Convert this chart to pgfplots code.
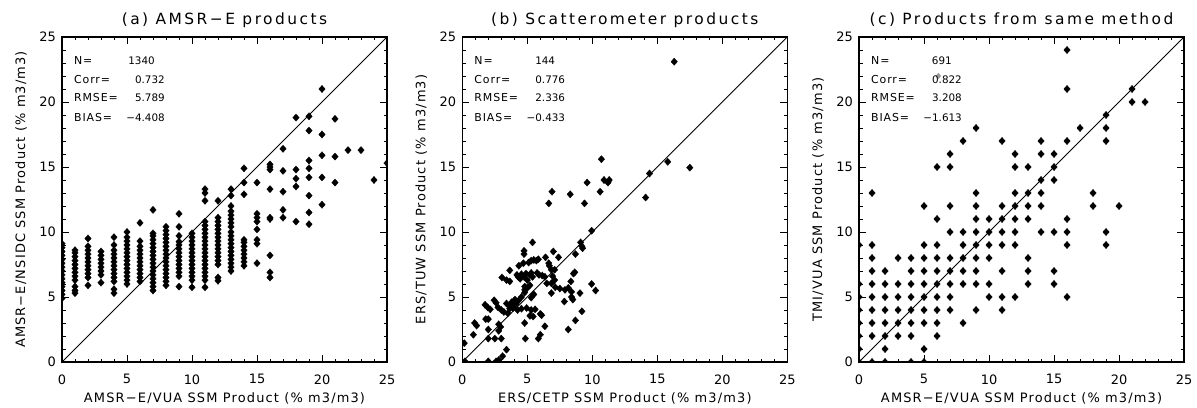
\documentclass[border=0pt]{standalone}
\usepackage{fontspec}
\setmainfont{DejaVu Sans}
\newfontfamily\lsfont{DejaVu Sans}[LetterSpace=9]
\newfontfamily\stfont{DejaVu Sans}[LetterSpace=8]
\newfontfamily\ttlfont{DejaVu Sans}[LetterSpace=16]
\usepackage{pgfplots}
\pgfplotsset{compat=1.18}
\pgfplotsset{
  idl/.style={
    scale only axis, width=325bp, height=325bp,
    xmin=0, xmax=25, ymin=0, ymax=25,
    xtick={0,5,...,25}, ytick={0,5,...,25},
    minor tick num=4,
    tick align=inside,
    major tick length=7bp, minor tick length=3.5bp,
    axis line style={line width=1.2bp},
    every tick/.style={black, line width=0.9bp},
    tick label style={font=\fontsize{13}{15}\selectfont},
    /pgf/number format/assume math mode=true,
    xticklabel style={yshift=-9bp},
    yticklabel style={xshift=-2.7bp},
    every axis x label/.style={at={(axis description cs:0.5,-0.125)}, anchor=base, font=\lsfont\fontsize{13}{15}\selectfont},
    every axis y label/.style={at={(axis description cs:-0.1138,0.5)}, rotate=90, anchor=base, font=\lsfont\fontsize{13}{15}\selectfont},
    every axis title/.style={at={(axis description cs:0.5,1.037)}, anchor=base, font=\ttlfont\fontsize{15.5}{18}\selectfont},
    clip marker paths=true,
  },
  pts/.style={only marks, mark=diamond*, mark size=3.6bp, mark options={xscale=1.2, fill=black, draw=black, line width=0.3bp}},
  diag/.style={black, line width=0.8bp, no marks},
}
\tikzset{stat/.style={font=\stfont\fontsize{11}{13}\selectfont, inner sep=0pt},
  statv/.style={font=\fontsize{10.4}{12}\selectfont, inner sep=0pt}}
\newcommand{\stats}[5]{%
  \node[stat, anchor=base west] at (axis cs:0.92,22.85) {N=};
  \node[stat, anchor=base west] at (axis cs:0.92,21.44) {Corr=};
  \node[stat, anchor=base west] at (axis cs:0.92,20.02) {RMSE=};
  \node[stat, anchor=base west] at (axis cs:0.92,18.48) {BIAS=};
  \node[statv, anchor=base east] at (axis cs:7.15,22.85) {#1};
  \node[statv, anchor=base east] at (axis cs:7.92,21.44) {#2};
  \node[statv, anchor=base east] at (axis cs:7.92,20.02) {#3};
  \node[statv, anchor=base east] at (axis cs:7.92,18.48) {#4};
}
\begin{document}
\begin{tikzpicture}[x=1bp,y=1bp]
\useasboundingbox (0,0) rectangle (1197,407);
% ---------------- (a)
\begin{axis}[idl, at={(62bp,45bp)}, anchor=south west,
  title={(a) AMSR−E products},
  xlabel={AMSR−E/VUA SSM Product (\% m3/m3)},
  ylabel={AMSR−E/NSIDC SSM Product (\% m3/m3)}]
\addplot[pts] table {
x y
0 4.9
0 5.2
0 5.5
0 5.8
0 6.1
0 6.4
0 6.7
0 7.0
0 7.3
0 7.6
0 7.9
0 8.2
0 8.5
0 8.8
0 9.1
1 5.3
1 5.5
1 5.8
1 6.3
1 6.6
1 6.9
1 7.2
1 7.5
1 7.8
1 8.1
1 8.4
1 8.6
2 5.9
2 6.5
2 6.8
2 7.1
2 7.4
2 7.7
2 8.0
2 8.3
2 8.6
2 8.9
2 9.5
3 6.1
3 6.7
3 7.0
3 7.3
3 7.6
3 7.9
3 8.2
3 8.5
4 5.3
4 5.6
4 6.2
4 6.5
4 6.8
4 7.1
4 7.4
4 7.7
4 8.0
4 8.3
4 8.6
4 9.0
4 9.6
5 6.0
5 6.3
5 6.6
5 6.9
5 7.2
5 7.5
5 7.8
5 8.1
5 8.4
5 8.7
5 9.0
5 9.3
5 9.6
5 10.0
6 6.2
6 6.5
6 6.8
6 7.1
6 7.4
6 7.7
6 8.0
6 8.3
6 8.6
6 8.9
6 9.3
6 10.7
7 5.5
7 5.8
7 6.1
7 6.4
7 6.7
7 7.0
7 7.3
7 7.6
7 7.9
7 8.2
7 8.5
7 8.8
7 9.1
7 9.4
7 9.7
7 9.9
7 11.7
8 5.9
8 6.2
8 6.5
8 6.8
8 7.1
8 7.4
8 7.7
8 8.0
8 8.3
8 8.6
8 8.9
8 9.2
8 9.5
8 9.8
8 10.1
8 10.4
9 5.8
9 6.6
9 6.9
9 7.2
9 7.5
9 7.8
9 8.1
9 8.4
9 8.7
9 9.0
9 9.25
9 9.7
9 10.4
9 11.4
10 5.75
10 6.3
10 6.6
10 6.9
10 7.2
10 7.5
10 7.8
10 8.1
10 8.4
10 8.7
10 9.0
10 9.3
10 9.6
10 9.9
11 5.75
11 6.3
11 6.6
11 6.9
11 7.2
11 7.5
11 7.8
11 8.1
11 8.4
11 8.7
11 9.0
11 9.3
11 9.6
11 9.9
11 10.2
11 10.5
11 10.8
11 12.4
11 13.0
11 13.3
12 6.25
12 6.5
12 7.5
12 7.8
12 8.1
12 8.4
12 8.7
12 9.0
12 9.3
12 9.6
12 9.9
12 10.2
12 10.5
12 10.8
12 11.1
12 12.4
13 7.0
13 7.3
13 7.6
13 7.9
13 8.2
13 8.5
13 8.8
13 9.1
13 9.4
13 9.7
13 10.0
13 10.4
13 10.7
13 11.0
13 11.3
13 11.6
13 12.0
13 12.8
13 13.3
14 7.4
14 7.7
14 8.0
14 8.3
14 8.6
14 8.9
14 9.2
14 9.4
14 12.9
14 13.8
14 14.9
15 7.6
15 9.1
15 9.4
15 10.2
15 10.8
15 11.1
15 11.4
15 13.8
16 6.5
16 6.9
16 8.2
16 11.0
16 11.1
16 13.3
16 14.8
16 15.0
16 15.2
17 11.1
17 11.7
17 13.1
17 14.7
17 16.4
18 10.8
18 13.5
18 14.1
18 14.8
18 18.8
19 10.6
19 11.5
19 12.8
19 14.2
19 14.9
19 15.5
19 17.8
19 18.9
20 12.1
20 14.2
20 15.9
20 17.5
20 21.0
21 13.8
21 15.8
21 18.7
22 16.3
23 16.3
24 14.0
25 15.3
};
\addplot[diag] coordinates {(0,0) (25,25)};
\stats{1340}{0.732}{5.789}{−4.408}{}
\end{axis}
% ---------------- (b)
\begin{axis}[idl, at={(462.3bp,45bp)}, anchor=south west,
  title={(b) Scatterometer products},
  xlabel={ERS/CETP SSM Product (\% m3/m3)},
  ylabel={ERS/TUW SSM Product (\% m3/m3)}]
\addplot[pts] table {
x y
16.3 23.1
10.7 15.6
15.8 15.4
17.5 14.95
14.4 14.5
14.1 12.65
10.9 14.0
11.3 14.0
11.2 13.8
10.6 13.1
9.6 13.8
9.4 12.2
8.3 12.9
6.9 13.1
6.65 12.2
9.95 10.1
9.1 9.2
9.2 8.9
9.25 8.75
8.7 8.3
8.65 6.9
5.4 9.2
4.75 8.55
4.75 8.3
7.0 8.5
7.4 8.05
6.4 8.05
5.3 7.8
5.5 7.85
5.7 7.8
5.85 7.9
6.65 7.6
6.7 7.4
4.35 7.4
4.7 7.6
5.1 7.65
3.65 7.05
4.2 6.7
4.55 6.75
4.9 6.8
5.3 6.85
5.75 6.85
5.9 6.7
6.15 6.65
6.85 7.1
7.1 7.1
6.95 6.6
3.05 6.5
3.4 6.3
3.65 6.2
4.3 6.55
4.45 6.4
4.75 6.55
5.0 6.3
5.2 6.7
5.4 6.55
6.35 6.55
6.5 6.05
6.85 6.05
7.1 6.3
7.15 5.75
7.5 5.65
8.55 6.8
8.35 6.2
8.15 5.7
7.9 5.55
8.4 5.4
8.4 5.0
8.5 4.8
9.05 5.3
7.85 4.65
9.95 6.0
10.25 5.5
6.85 5.3
4.8 5.55
4.8 5.35
4.55 5.0
5.2 5.9
5.0 5.7
4.8 5.8
5.5 5.2
5.3 4.95
4.05 4.8
3.8 4.6
4.1 4.45
4.3 4.7
3.4 4.5
3.65 4.3
3.9 4.15
3.65 4.1
3.0 4.0
3.2 3.85
3.5 3.75
4.25 4.0
4.55 4.1
4.95 4.15
5.3 4.0
5.6 4.05
6.0 3.7
5.2 3.55
5.45 3.5
6.1 3.6
2.45 4.75
2.6 4.55
2.75 4.2
1.75 4.4
1.95 4.2
2.15 4.05
1.8 3.3
2.0 3.3
0.95 3.0
1.1 2.8
0.85 2.1
2.0 2.5
2.8 2.9
2.95 2.7
2.8 2.4
2.0 1.8
2.5 1.8
3.0 1.8
4.8 3.0
4.85 1.8
5.85 1.8
6.0 2.1
6.35 2.75
9.2 3.9
8.7 3.2
8.15 2.5
3.4 0.95
3.1 0.45
2.8 0.15
2.0 0.05
2.6 0.05
0.2 0.05
0.15 1.45
};
\addplot[diag] coordinates {(0,0) (25,25)};
\stats{144}{0.776}{2.336}{−0.433}{}
\end{axis}
% ---------------- (c)
\begin{axis}[idl, at={(859bp,45bp)}, anchor=south west,
  title={(c) Products from same method},
  xlabel={AMSR−E/VUA SSM Product (\% m3/m3)},
  ylabel={TMI/VUA SSM Product (\% m3/m3)}]
\addplot[pts] table {
x y
0 0
1 0
2 0
4 0
5 0
0 1
2 1
5 1
0 2
1 2
2 2
3 2
4 2
6 2
0 3
1 3
2 3
3 3
4 3
5 3
6 3
8 3
0 4
1 4
2 4
3 4
4 4
5 4
6 4
7 4
9 4
11 4
0 5
1 5
2 5
3 5
4 5
5 5
6 5
7 5
10 5
11 5
12 5
16 5
0 6
1 6
2 6
3 6
4 6
5 6
6 6
7 6
8 6
9 6
10 6
13 6
15 6
1 7
2 7
4 7
5 7
6 7
7 7
8 7
9 7
11 7
13 7
15 7
1 8
3 8
4 8
5 8
6 8
7 8
8 8
9 8
10 8
13 8
0 9
1 9
5 9
6 9
8 9
9 9
10 9
11 9
12 9
16 9
19 9
7 10
8 10
9 10
10 10
11 10
12 10
14 10
15 10
16 10
19 10
6 11
9 11
10 11
11 11
12 11
13 11
16 11
5 12
7 12
9 12
11 12
12 12
13 12
14 12
18 12
20 12
1 13
9 13
12 13
13 13
14 13
18 13
14 14
15 14
6 15
7 15
12 15
13 15
15 15
7 16
12 16
14 16
15 16
8 17
11 17
14 17
16 17
19 17
9 18
17 18
19 18
19 19
21 20
22 20
16 21
21 21
16 24
};
\addplot[only marks, mark=diamond*, mark size=2.8bp, mark options={xscale=1.2, fill=black!40, draw=black!40}] coordinates {(6.1,22)};
\addplot[diag] coordinates {(0,0) (25,25)};
\stats{691}{0.822}{3.208}{−1.613}{}
\end{axis}
\end{tikzpicture}
\end{document}
